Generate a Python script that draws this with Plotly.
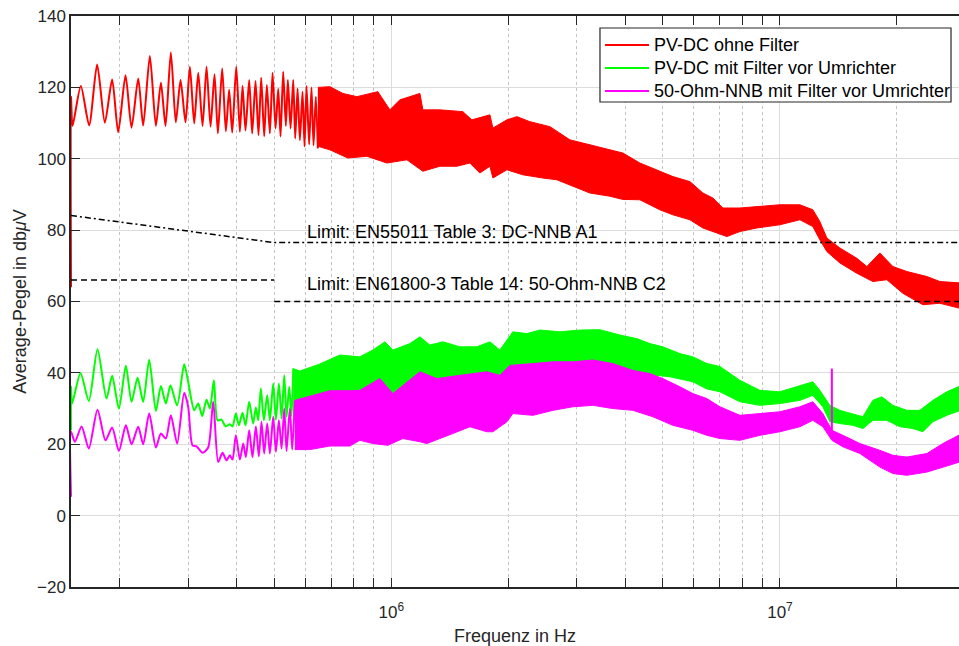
import numpy as np
import plotly.graph_objects as go

# ---------------- data (frequencies in kHz, levels in dBuV) ----------------
# PV-DC ohne Filter: resolved low-frequency ripple
red_line_khz = [150, 150, 151.4, 159.0, 167.0, 175.1, 183.3, 191.4, 198.4, 207.2, 214.7, 223.4,
                230.0, 239.3, 248.0, 255.5, 262.6, 271.0, 279.1, 287.0, 295.6, 303.3, 311.2,
                318.7, 327.0, 334.8, 342.8, 351.0, 358.0, 367.3, 375.4, 382.8, 389.8, 399.2,
                407.9, 414.4, 421.8, 431.0, 438.7, 447.5, 455.5, 462.8, 471.1, 478.6, 487.2,
                495.0, 503.9, 511.9, 519.0, 527.2, 535.6, 542.0, 550.7, 559.5, 566.1, 574.1,
                582.0, 591.2, 598.3, 605.3, 614.9, 623.4, 631.0, 639.7, 647.4]
red_line_db = [64, 117.4, 109.2, 120.4, 109.4, 126.4, 110.1, 122.2, 107.4, 123.4, 108.7, 122.5,
               109.3, 128.8, 109.2, 121.3, 109.2, 129.8, 110.2, 122.1, 110.2, 125.8, 109.9,
               124.1, 109.2, 125.8, 109.0, 123.7, 107.1, 125.3, 107.7, 119.3, 107.3, 125.8,
               107.6, 120.4, 107.9, 122.1, 107.1, 121.8, 106.6, 122.7, 106.3, 120.7, 107.1,
               124.1, 108.5, 119.6, 106.2, 124.4, 109.2, 122.1, 108.5, 122.1, 105.7, 119.7,
               105.2, 118.8, 103.4, 120.4, 104.0, 120.0, 103.8, 117.4, 102.9]
# PV-DC ohne Filter: dense part, upper / lower envelope
red_up_khz = [647.4, 695.1, 750.7, 815.7, 923.7, 991.7, 1052, 1185, 1206, 1334, 1528, 1612,
              1794, 1826, 1984, 2105, 2273, 2559, 2881, 3243, 3652, 3944, 4361, 4909, 5303,
              5864, 6333, 6721, 7130, 7887, 8879, 9993, 11253, 12150, 12665, 13201, 14261,
              15770, 16735, 18072, 19519, 21207, 23875, 25786, 30000]
red_up_db = [120.0, 120.2, 118.3, 117.4, 118.8, 113.7, 116.5, 118.3, 113.7, 113.7, 113.2, 110.9,
             112.3, 108.6, 110.9, 111.8, 110.4, 109.0, 105.3, 103.9, 102.5, 101.6, 98.8, 96.4,
             95.0, 93.6, 90.4, 89.0, 86.2, 86.2, 86.6, 87.1, 87.1, 85.7, 82.4, 77.8, 75.0,
             72.1, 69.8, 73.6, 69.8, 68.4, 67.0, 65.6, 65.1]
red_lo_khz = [647.4, 695.1, 773.2, 865.4, 974.3, 1097, 1206, 1334, 1475, 1593, 1690, 1794,
              1826, 1984, 2181, 2455, 2667, 2933, 3243, 3652, 3944, 4361, 4909, 5303, 5864,
              6333, 6882, 7301, 7887, 8722, 9993, 11253, 12150, 12665, 13201, 14261, 15770,
              17339, 18836, 20710, 23315, 25786, 30000]
red_lo_db = [103.5, 102.5, 100.2, 100.7, 98.8, 99.7, 96.5, 97.9, 97.9, 98.8, 96.0, 97.9,
             94.6, 96.9, 95.5, 94.6, 94.1, 92.3, 90.4, 89.5, 88.6, 88.5, 85.7, 84.3, 82.9,
             80.6, 79.2, 78.2, 79.6, 80.6, 81.5, 82.9, 81.0, 77.3, 74.0, 70.8, 67.9,
             65.6, 66.1, 62.3, 59.1, 59.5, 57.7]

# PV-DC mit Filter vor Umrichter
green_line_khz = [150, 150, 151.0, 158.7, 166.7, 175.5, 185.1, 191.4, 199.2, 207.6, 214.7, 222.5,
                  230.0, 238.4, 248.0, 255.5, 263.1, 270.4, 281.3, 293.3, 300.3, 311.2, 318.7,
                  326.3, 334.8, 341.5, 349.7, 357.3, 365.9, 374.7, 384.4, 390.5, 398.3, 405.4,
                  414.4, 421.8, 431.0, 441.3, 448.4, 454.6, 461.9, 470.2, 479.6, 487.2, 496.9,
                  504.9, 514.0, 522.2, 530.5, 537.8, 546.3, 553.9, 559.5]
green_line_db = [23.9, 36.1, 31.4, 40, 32.1, 46.6, 32.8, 39.2, 30, 42, 31.9, 38.6, 31.9, 43.7,
                 29.3, 36.3, 31.4, 36.5, 30.9, 42.4, 37.5, 29.5, 31.4, 27.9, 32.5, 30, 37.9,
                 26.7, 26.9, 25, 25.6, 25, 28.6, 25.3, 28.8, 25.3, 31.9, 25.8, 30.3, 26.7, 35.6,
                 26.7, 33.7, 26.7, 37, 26.9, 37, 27.2, 39.3, 27.7, 36.1, 27.9, 41.2]
green_up_khz = [559.5, 582.0, 655.3, 737.5, 830.1, 896.8, 962.8, 1009.5, 1117, 1185, 1257, 1358,
                1501, 1660, 1794, 1903, 2055, 2233, 2412, 2715, 3056, 3441, 3875, 4284, 4628,
                4997, 5527, 5969, 6485, 7005, 7887, 8879, 9993, 11253, 12150, 12665, 13440,
                14261, 15400, 16343, 17339, 18288, 19519, 21207, 22904, 24736, 26877, 30000]
green_up_db = [41.2, 40.5, 42.5, 45.0, 44.5, 46.4, 48.7, 46.4, 48.2, 50.1, 47.8, 48.7,
               47.3, 47.3, 48.7, 46.4, 51.5, 51.0, 52.0, 51.5, 52.0, 52.1, 50.6, 49.6, 48.2,
               47.3, 45.4, 44.5, 42.6, 41.8, 37.9, 35.1, 34.7, 36.5, 37.5, 35.1, 30.9,
               29.5, 28.6, 27.7, 32.3, 33.3, 30.9, 29.5, 29.5, 32.3, 34.7, 37.0]
green_lo_khz = [559.5, 617.5, 695.1, 830.1, 1052, 1415, 1903, 2559, 3441, 4628, 5209, 5969,
                6485, 7005, 7887, 8879, 9993, 11253, 12150, 12893, 13440, 14261, 15400, 16343,
                17339, 18836, 20345, 21974, 23315, 24736, 26877, 30000]
green_lo_db = [27.9, 28.0, 28.5, 29.0, 31.0, 33.0, 35.5, 38.0, 39.5, 39.5, 38.9, 37.5,
               35.5, 34.7, 31.9, 30.9, 31.4, 32.3, 33.7, 30.5, 26.3, 25.8, 25.3, 24.4,
               26.7, 26.7, 24.9, 24.4, 23.5, 26.3, 28.1, 30.0]

# 50-Ohm-NNB mit Filter vor Umrichter
mag_line_khz = [150, 150, 153.5, 159.7, 166.7, 175.5, 184.0, 191.4, 199.2, 207.6, 214.7, 223.4,
                230.0, 238.4, 248.0, 255.5, 263.1, 271.0, 281.3, 293.3, 300.3, 308.1, 315.5,
                327.0, 338.1, 348.3, 358.7, 368.1, 376.9, 384.4, 390.5, 398.3, 407.9, 416.0,
                422.6, 431.0, 439.5, 448.4, 456.4, 463.6, 471.1, 479.6, 487.2, 496.9, 504.9,
                514.0, 522.2, 530.5, 537.8, 548.4, 556.1, 564.9]
mag_line_db = [5.3, 23.5, 20.7, 25, 18.8, 29.7, 21.1, 24.7, 18.1, 25.3, 20, 24.9, 20, 28.6,
               19.1, 23, 21.6, 28.1, 20.2, 34.4, 30.5, 19.7, 19.4, 17.6, 19.1, 31.9, 15, 17.6,
               15.5, 16.9, 15.7, 22.5, 15.7, 20.2, 16.4, 23.9, 16.4, 25, 16.6, 26.3, 17.4, 25.8,
               17.4, 27.7, 17.9, 26.7, 18.8, 30, 18.1, 30, 18.5, 32.3]
mag_up_khz = [564.9, 617.5, 695.1, 782.5, 830.1, 934.7, 1009.5, 1185, 1310, 1501, 1762, 1903,
              2019, 2314, 2605, 2933, 3301, 3717, 4184, 4628, 4997, 5527, 5969, 6485, 7005,
              7887, 8879, 9993, 11253, 12150, 12893, 13600, 14517, 16055, 18072, 19519, 21207,
              23875, 26248, 30000]
mag_up_db = [32.3, 33.5, 35.0, 35.0, 35.1, 38.4, 34.2, 40.3, 38.4, 39.3, 40.3, 39.3,
             42.1, 42.6, 43.1, 43.1, 43.6, 42.6, 40.7, 39.8, 38.4, 36.1, 34.2, 32.8, 30.5,
             28.1, 28.6, 29.1, 30.5, 31.9, 28.6, 23.9, 22.5, 20.2, 18.3, 16.9, 16.4,
             17.4, 20.2, 23.5]
mag_lo_khz = [564.9, 617.5, 695.1, 782.5, 830.1, 896.8, 980.1, 1071, 1185, 1235, 1334, 1440,
              1593, 1762, 1826, 1984, 2055, 2314, 2605, 2933, 3301, 3717, 4184, 4711, 5303,
              5969, 6485, 7005, 7887, 8879, 9993, 11253, 12150, 12893, 13600, 14517, 16055,
              18072, 19519, 21207, 23875, 26248, 30000]
mag_lo_db = [18.5, 18.5, 19.5, 19.5, 21.1, 20.2, 19.7, 21.6, 20.7, 20.2, 21.6, 23.0,
             24.9, 23.5, 23.5, 26.3, 28.6, 28.1, 29.5, 30.5, 30.9, 30.0, 29.5, 27.7, 25.3,
             23.9, 22.5, 21.6, 21.1, 22.5, 23.5, 24.9, 26.7, 24.9, 21.1, 19.3, 17.4,
             13.6, 11.8, 11.3, 12.2, 13.6, 15.5]
mag_spike_khz = [13600, 13600]
mag_spike_db = [24.0, 41.2]

# limits
lim1_khz = [150, 500, 30000]
lim1_db = [84.1, 76.5, 76.5]
lim2_khz = [150, 500, None, 500, 30000]
lim2_db = [66, 66, None, 60, 60]

series_names = ["PV-DC ohne Filter", "PV-DC mit Filter vor Umrichter",
                "50-Ohm-NNB mit Filter vor Umrichter"]
lim_labels = ["Limit: EN55011 Table 3: DC-NNB A1", "Limit: EN61800-3 Table 14: 50-Ohm-NNB C2"]

RED, GREEN, MAG = "#ff0000", "#00ff00", "#ff00ff"
COLORS = [RED, GREEN, MAG]
AX = "#262626"


def hz(lst):
    return [None if v is None else v * 1e3 for v in lst]


def band(xu, yu, xl, yl, color):
    return go.Scatter(x=hz(xu) + hz(xl)[::-1], y=yu + yl[::-1], fill="toself",
                      fillcolor=color, mode="lines", line=dict(color=color, width=1),
                      showlegend=False, hoverinfo="skip")


def ripple(x, y, name, color):
    return go.Scatter(x=hz(x), y=y, mode="lines", name=name, showlegend=False,
                      line=dict(color=color, width=2, shape="spline", smoothing=0.7))


fig = go.Figure()
fig.add_trace(band(red_up_khz, red_up_db, red_lo_khz, red_lo_db, RED))
fig.add_trace(ripple(red_line_khz, red_line_db, series_names[0], RED))
fig.add_trace(band(green_up_khz, green_up_db, green_lo_khz, green_lo_db, GREEN))
fig.add_trace(ripple(green_line_khz, green_line_db, series_names[1], GREEN))
fig.add_trace(band(mag_up_khz, mag_up_db, mag_lo_khz, mag_lo_db, MAG))
fig.add_trace(ripple(mag_line_khz, mag_line_db, series_names[2], MAG))
fig.add_trace(go.Scatter(x=hz(mag_spike_khz), y=mag_spike_db, mode="lines", showlegend=False,
                         line=dict(color=MAG, width=2)))
fig.add_trace(go.Scatter(x=hz(lim1_khz), y=lim1_db, mode="lines", showlegend=False,
                         line=dict(color="black", width=1.5, dash="6px,3px,2px,3px")))
fig.add_trace(go.Scatter(x=hz(lim2_khz), y=lim2_db, mode="lines", showlegend=False,
                         connectgaps=False, line=dict(color="black", width=1.5, dash="6px,4px")))

minor_vals = [k * 10 ** e for e in (5, 6, 7) for k in range(2, 10) if 1.5e5 <= k * 10 ** e <= 3e7]

# legend box drawn in paper coordinates (MATLAB-style legend)
LEG_X0, LEG_X1, LEG_Y0, LEG_Y1 = 0.5957, 0.9910, 0.8494, 0.9790
LEG_LX0, LEG_LX1, LEG_TX = 0.6014, 0.6509, 0.6543
LEG_ROWS = [0.9492, 0.9089, 0.8687]

shapes = [dict(type="rect", xref="paper", yref="paper", x0=LEG_X0, x1=LEG_X1, y0=LEG_Y0, y1=LEG_Y1,
               line=dict(color=AX, width=1.2), fillcolor="white", layer="above")]
annotations = []
for name, col, ry in zip(series_names, COLORS, LEG_ROWS):
    shapes.append(dict(type="line", xref="paper", yref="paper", x0=LEG_LX0, x1=LEG_LX1, y0=ry, y1=ry,
                       line=dict(color=col, width=2), layer="above"))
    annotations.append(dict(x=LEG_TX, y=ry, xref="paper", yref="paper", text=name, showarrow=False,
                            xanchor="left", yanchor="middle", font=dict(size=18, color="black")))

annotations += [
    dict(x=np.log10(600e3), y=79.6, xref="x", yref="y", text=lim_labels[0],
         showarrow=False, xanchor="left", yanchor="middle", font=dict(size=18, color="black")),
    dict(x=np.log10(600e3), y=64.9, xref="x", yref="y", text=lim_labels[1],
         showarrow=False, xanchor="left", yanchor="middle", font=dict(size=18, color="black")),
]

FONT = "Liberation Sans, Arial, Helvetica, sans-serif"
fig.update_layout(
    width=959, height=646,
    margin=dict(l=71, r=0, t=16, b=59, autoexpand=False),
    plot_bgcolor="white", paper_bgcolor="white",
    font=dict(family=FONT, size=17, color=AX),
    showlegend=False,
    xaxis=dict(type="log", range=[np.log10(1.5e5), 7.4606], automargin=False,
               tickvals=[1e6, 1e7], ticktext=["10<sup>6</sup>", "10<sup>7</sup>"],
               ticks="inside", ticklen=9, tickcolor=AX, tickwidth=1, ticklabelstandoff=9,
               showline=True, linecolor=AX, linewidth=1.5, mirror="ticks",
               showgrid=True, gridcolor="#dcdcdc", gridwidth=1, zeroline=False,
               minor=dict(tickvals=minor_vals, ticks="inside", ticklen=9, tickcolor=AX,
                          showgrid=True, gridcolor="#c4c4c4", griddash="dot", gridwidth=1),
               title=dict(text="Frequenz in Hz", font=dict(size=18), standoff=8)),
    yaxis=dict(range=[-20, 140], tick0=-20, dtick=20, automargin=False,
               ticks="inside", ticklen=9, tickcolor=AX, tickwidth=1,
               showline=True, linecolor=AX, linewidth=1.5,
               showgrid=True, gridcolor="#dcdcdc", gridwidth=1, zeroline=False,
               title=dict(text="Average-Pegel in db<i>μ</i>V", font=dict(size=18), standoff=6)),
    shapes=shapes,
    annotations=annotations,
)

fig.write_html("out.html", config={"displayModeBar": False},
               post_script="document.body.style.margin='0px';document.body.style.overflow='hidden';")
